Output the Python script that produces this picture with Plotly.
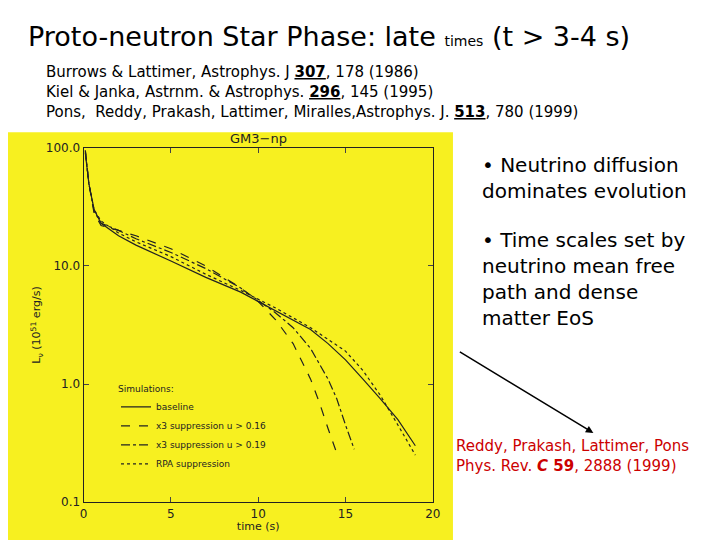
import plotly.graph_objects as go

t_base = [0.1, 0.3, 0.6, 1, 2, 3, 5, 7, 9, 11, 13, 14, 15, 16, 17, 18, 19]
l_base = [90, 50, 30, 23, 18, 15, 11, 8, 6, 4.2, 2.9, 2.2, 1.6, 1.1, 0.75, 0.5, 0.3]
t_u16 = [0.1, 0.3, 0.6, 1, 2, 3, 5, 7, 9, 10, 11, 12, 13, 13.5, 14, 14.5]
l_u16 = [95, 50, 28, 22, 20, 18, 14, 10, 6.5, 5, 3.5, 2.2, 1.1, 0.7, 0.42, 0.26]
t_u19 = [0.1, 0.3, 0.6, 1, 2, 3, 5, 7, 9, 11, 12, 13, 14, 14.5, 15, 15.5]
l_u19 = [95, 50, 29, 23, 20, 17, 13, 9.5, 6.5, 4, 3, 2, 1.1, 0.75, 0.45, 0.28]
t_rpa = [0.1, 0.3, 0.6, 1, 2, 3, 5, 7, 9, 11, 13, 15, 16, 17, 18, 19]
l_rpa = [92, 50, 30, 24, 19, 16, 12, 8.5, 6.2, 4.4, 3.0, 1.9, 1.3, 0.8, 0.45, 0.25]

fig = go.Figure()
ink = "#222"
for t, l, dash, name in [(t_base, l_base, "solid", "baseline"),
                         (t_u16, l_u16, "dash", "x3 suppression u > 0.16"),
                         (t_u19, l_u19, "dashdot", "x3 suppression u > 0.19"),
                         (t_rpa, l_rpa, "dot", "RPA suppression")]:
    fig.add_trace(go.Scatter(x=t, y=l, mode="lines", name=name, line=dict(color=ink, width=1.2, dash=dash)))

fig.add_shape(type="rect", xref="paper", yref="paper", x0=0, x1=0.618, y0=0, y1=0.77,
              fillcolor="#f7f020", line_width=0, layer="below")

fig.update_layout(
    width=720, height=540, margin=dict(l=0, r=0, t=0, b=0, autoexpand=False),
    paper_bgcolor="white", plot_bgcolor="rgba(0,0,0,0)",
    font=dict(family="DejaVu Sans", color="black"),
    legend=dict(x=0.15, y=0.31, xanchor="left", yanchor="top", bgcolor="rgba(0,0,0,0)",
                font=dict(size=9, color=ink), title=dict(text="Simulations:", font=dict(size=9))),
    xaxis=dict(domain=[0.105, 0.59], range=[0, 20], tickvals=[0, 5, 10, 15, 20], ticks="inside",
               mirror="ticks", showline=True, linecolor=ink, showgrid=False, zeroline=False,
               tickfont=dict(size=12, color=ink),
               title=dict(text="time (s)", font=dict(size=11, color=ink), standoff=2)),
    yaxis=dict(domain=[0.085, 0.741], type="log", range=[-1, 2], tickvals=[0.1, 1, 10, 100],
               ticktext=["0.1", "1.0", "10.0", "100.0"], ticks="inside", mirror="ticks",
               showline=True, linecolor=ink, showgrid=False, tickfont=dict(size=12, color=ink),
               title=dict(text="L<sub>ν</sub> (10<sup>51</sup> erg/s)", font=dict(size=11, color=ink), standoff=2)),
)

def txt(x, y, s, size, color="black", anchor="left"):
    fig.add_annotation(x=x, y=y, xref="paper", yref="paper", text=s, showarrow=False,
                       xanchor=anchor, yanchor="middle", align="left",
                       font=dict(size=size, color=color))

txt(0.025, 0.948, "Proto-neutron Star Phase: late <span style='font-size:14px'>times</span> (t > 3-4 s)", 27)
txt(0.05, 0.882, "Burrows & Lattimer, Astrophys. J <u><b>307</b></u>, 178 (1986)", 15)
txt(0.05, 0.845, "Kiel & Janka, Astrnm. & Astrophys. <u><b>296</b></u>, 145 (1995)", 15)
txt(0.05, 0.807, "Pons,  Reddy, Prakash, Lattimer, Miralles,Astrophys. J. <u><b>513</b></u>, 780 (1999)", 15)
txt(0.348, 0.758, "GM3−np", 13, ink, "center")
txt(0.655, 0.685, "• Neutrino diffusion<br>dominates evolution", 20)
txt(0.655, 0.498, "• Time scales set by<br>neutrino mean free<br>path and dense<br>matter EoS", 20)
txt(0.62, 0.17, "Reddy, Prakash, Lattimer, Pons<br>Phys. Rev. <b><i>C</i> 59</b>, 2888 (1999)", 15, "#cc0000")
fig.add_annotation(x=0.813, y=0.213, ax=-135, ay=-82, xref="paper", yref="paper",
                   showarrow=True, arrowhead=2, arrowwidth=1.5, arrowcolor="black", text="")

fig.write_html("out.html")
